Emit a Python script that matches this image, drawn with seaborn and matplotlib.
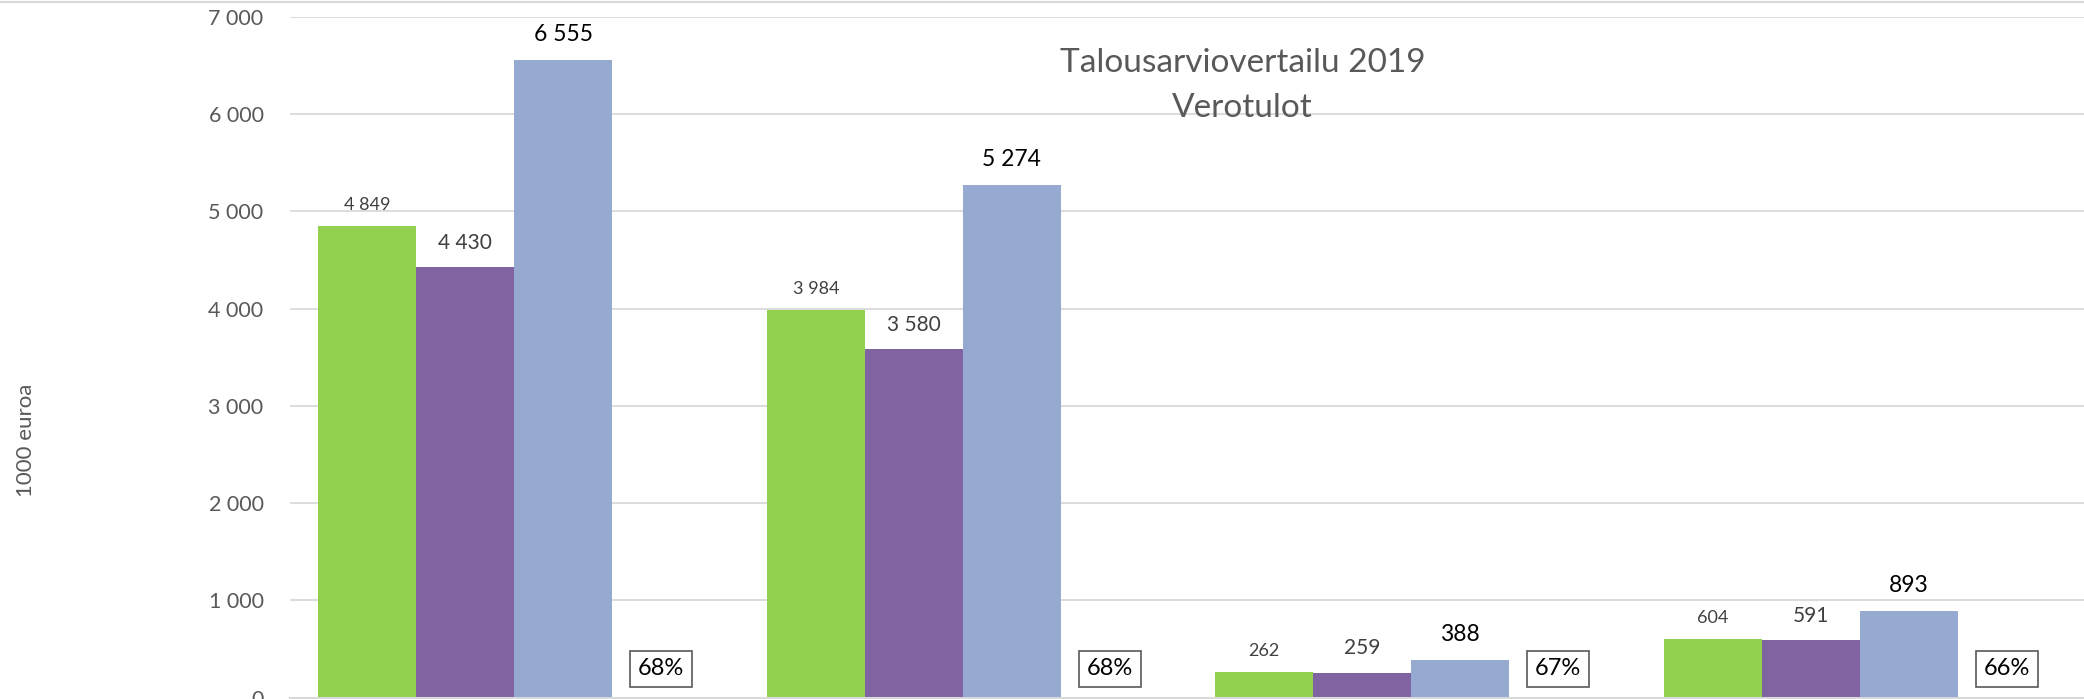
import pandas as pd
import seaborn as sns
import matplotlib.pyplot as plt
from matplotlib.lines import Line2D
from matplotlib.ticker import FuncFormatter, MultipleLocator

# data
categories = ['Verotulot yhteensä', 'Kunnallisvero', 'Yhteisövero', 'Kiinteistövero']
series = ['sarja 1', 'sarja 2', 'sarja 3', 'osuus']
values_1 = [4849, 3984, 262, 604]
values_2 = [4430, 3580, 259, 591]
values_3 = [6555, 5274, 388, 893]
share_pct = [68, 68, 67, 66]

colors = ['#92D050', '#8064A2', '#95A9D1', 'white']
label_colors = ['#404040', '#404040', '#000000']
label_sizes = [13, 15, 16.5]
label_offsets = [11.5, 13, 13.7]


def build_frame():
    rows = []
    for i, cat in enumerate(categories):
        rows.append((cat, series[0], values_1[i]))
        rows.append((cat, series[1], values_2[i]))
        rows.append((cat, series[2], values_3[i]))
        # placeholder slot for the share box
        rows.append((cat, series[3], 0))
    return pd.DataFrame(rows, columns=['luokka', 'sarja', 'arvo'])


def main():
    df = build_frame()

    sns.set_theme(style='whitegrid')
    plt.rcParams['font.family'] = ['Lato', 'DejaVu Sans']

    fig = plt.figure(figsize=(20.84, 6.99), dpi=100)
    ax = fig.add_axes([290 / 2084, 1.3 / 699, 1 - 290 / 2084, 681 / 699])

    sns.barplot(data=df, x='luokka', y='arvo', hue='sarja', hue_order=series,
                order=categories, palette=colors, width=0.874, saturation=1,
                linewidth=0, errorbar=None, legend=False, ax=ax)

    ax.set_xlim(-0.5, len(categories) - 0.5)
    ax.set_ylim(0, 7000)
    ax.yaxis.set_major_locator(MultipleLocator(1000))
    ax.yaxis.set_major_formatter(FuncFormatter(lambda v, p: '{:,}'.format(int(v)).replace(',', ' ')))
    ax.tick_params(axis='y', length=0, pad=19, labelsize=15.5, labelcolor='#595959')
    ax.tick_params(axis='x', length=0, labelbottom=False)
    ax.set_xlabel('')
    ax.set_ylabel('')
    ax.yaxis.grid(True, color='#D9D9D9', lw=1.3)
    ax.xaxis.grid(False)
    ax.set_axisbelow(True)
    for side in ['left', 'right', 'top']:
        ax.spines[side].set_visible(False)
    ax.spines['bottom'].set_color('#D9D9D9')
    ax.spines['bottom'].set_linewidth(1.5)

    # value labels
    for k in range(3):
        for bar in ax.containers[k]:
            h = bar.get_height()
            ax.annotate('{:,}'.format(int(h)).replace(',', ' '),
                        (bar.get_x() + bar.get_width() / 2, h),
                        xytext=(0, label_offsets[k]), textcoords='offset points',
                        ha='center', va='baseline', fontsize=label_sizes[k],
                        color=label_colors[k])

    # share boxes
    for bar, pct in zip(ax.containers[3], share_pct):
        ax.annotate('{}%'.format(pct), (bar.get_x() + bar.get_width() / 2, 0),
                    xytext=(0, 20.7), textcoords='offset points',
                    ha='center', va='center', fontsize=17, color='black',
                    bbox=dict(boxstyle='square,pad=0.33', fc='white', ec='#595959', lw=1.2))

    # title inside plot
    ax.text(0.531, 0.9188, 'Talousarviovertailu 2019', transform=ax.transAxes,
            ha='center', va='baseline', fontsize=24, color='#595959')
    ax.text(0.531, 0.8527, 'Verotulot', transform=ax.transAxes,
            ha='center', va='baseline', fontsize=24, color='#595959')

    fig.text(26.5 / 2084, 259 / 699, '1000 euroa', rotation=90, ha='center', va='center',
             fontsize=16, color='#595959')

    fig.add_artist(Line2D([0, 1], [1 - 1.7 / 699, 1 - 1.7 / 699], transform=fig.transFigure,
                          color='#D9D9D9', lw=1.5))

    fig.savefig('out.png', dpi=100)


if __name__ == '__main__':
    main()
